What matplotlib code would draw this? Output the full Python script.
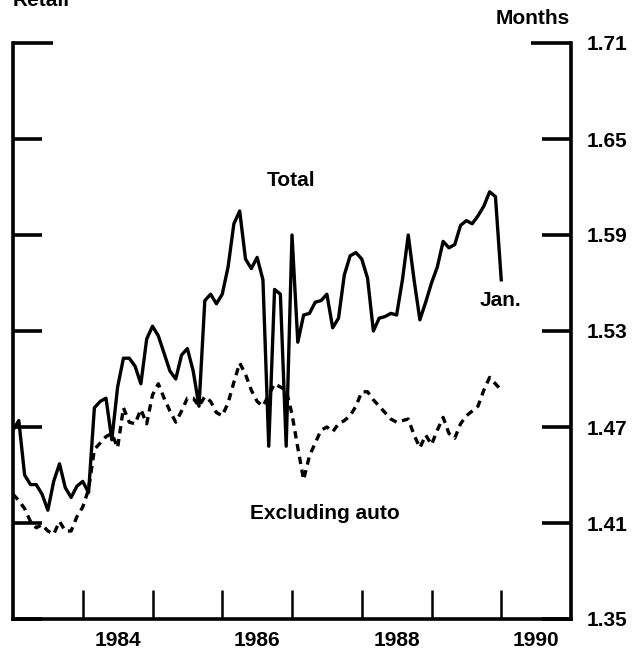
import numpy as np
import matplotlib
matplotlib.use("Agg")
import matplotlib.pyplot as plt
from matplotlib.ticker import FixedLocator, FixedFormatter, NullFormatter

plt.rcParams['font.family'] = ['Liberation Sans', 'DejaVu Sans']

# Monthly data, Jan 1983 .. Jan 1990
start_year = 1983
total = [
    1.468, 1.474, 1.440, 1.434, 1.434, 1.428, 1.418, 1.436, 1.447, 1.432, 1.426, 1.433,
    1.436, 1.429, 1.482, 1.486, 1.488, 1.462, 1.495, 1.513, 1.513, 1.508, 1.497, 1.525,
    1.533, 1.527, 1.516, 1.505, 1.500, 1.515, 1.519, 1.505, 1.483, 1.549, 1.553, 1.547,
    1.553, 1.570, 1.597, 1.605, 1.575, 1.569, 1.576, 1.562, 1.458, 1.556, 1.553, 1.458,
    1.590, 1.523, 1.540, 1.541, 1.548, 1.549, 1.553, 1.532, 1.538, 1.565, 1.577, 1.579,
    1.575, 1.563, 1.530, 1.538, 1.539, 1.541, 1.540, 1.562, 1.590, 1.562, 1.537, 1.548,
    1.560, 1.570, 1.586, 1.582, 1.584, 1.596, 1.599, 1.597, 1.602, 1.608, 1.617, 1.614,
    1.562,
]
excluding_auto = [
    1.428, 1.424, 1.419, 1.411, 1.407, 1.409, 1.405, 1.403, 1.411, 1.405, 1.405, 1.414,
    1.420, 1.431, 1.456, 1.460, 1.464, 1.466, 1.457, 1.482, 1.473, 1.472, 1.481, 1.472,
    1.490, 1.497, 1.488, 1.480, 1.473, 1.480, 1.488, 1.488, 1.483, 1.489, 1.486, 1.479,
    1.477, 1.485, 1.498, 1.510, 1.503, 1.493, 1.486, 1.483, 1.490, 1.497, 1.495, 1.493,
    1.478, 1.457, 1.437, 1.452, 1.460, 1.468, 1.470, 1.467, 1.472, 1.474, 1.477, 1.483,
    1.492, 1.492, 1.487, 1.483, 1.479, 1.475, 1.473, 1.474, 1.475, 1.465, 1.457, 1.465,
    1.459, 1.468, 1.476, 1.466, 1.463, 1.472, 1.477, 1.480, 1.483, 1.493, 1.501, 1.497,
    1.493,
]
y_ticks = [1.35, 1.41, 1.47, 1.53, 1.59, 1.65]
y_top_tick = [1.71]
y_labels = ["1.35", "1.41", "1.47", "1.53", "1.59", "1.65"]
y_top_label = ["1.71"]
year_ticks = [1984, 1985, 1986, 1987, 1988, 1989, 1990]
year_labels = ["1984", "1986", "1988", "1990"]

months = np.arange(len(total))
x = start_year + months / 12.0

W, H = 643, 659
fig = plt.figure(figsize=(W / 100, H / 100), dpi=100)
ax = fig.add_axes([13 / W, 1 - 619 / H, (571 - 13) / W, (619 - 43) / H])

ax.plot(x, total, color='black', lw=2.4, solid_joinstyle='round')
ax.plot(x, excluding_auto, color='black', lw=2.4, dashes=(2.2, 1.7),
        dash_capstyle='butt')

ax.set_xlim(1983, 1991)
ax.set_ylim(1.35, 1.71)

for s in ['left', 'right', 'bottom']:
    ax.spines[s].set_linewidth(2.6)
ax.spines['top'].set_visible(False)

# y ticks (both sides, inward), labels on the right
ax.yaxis.set_major_locator(FixedLocator(y_ticks))
ax.yaxis.set_major_formatter(FixedFormatter(y_labels))
ax.yaxis.set_minor_locator(FixedLocator(y_top_tick))
ax.yaxis.set_minor_formatter(FixedFormatter(y_top_label))
ax.tick_params(axis='y', which='major', direction='in', left=True, right=True,
               labelleft=False, labelright=True, length=21, width=2.6, pad=11,
               labelsize=15)
ax.tick_params(axis='y', which='minor', direction='in', left=True, right=True,
               labelleft=False, labelright=True, length=29, width=2.6, pad=11,
               labelsize=15)

# x ticks at year boundaries, labels centred in the year
ax.xaxis.set_major_locator(FixedLocator(year_ticks))
ax.xaxis.set_major_formatter(NullFormatter())
ax.xaxis.set_minor_locator(FixedLocator([int(y) + 0.5 for y in year_labels]))
ax.xaxis.set_minor_formatter(FixedFormatter(year_labels))
ax.tick_params(axis='x', which='major', direction='in', length=21, width=1.8)
ax.tick_params(axis='x', which='minor', length=0, pad=9, labelsize=15)

for lab in ax.get_xticklabels(minor=True) + ax.get_yticklabels() + ax.get_yticklabels(minor=True):
    lab.set_fontweight('bold')

ax.text(1986.99, 1.624, "Total", ha='center', va='center', fontsize=15, fontweight='bold')
ax.text(1989.99, 1.549, "Jan.", ha='center', va='center', fontsize=15, fontweight='bold')
ax.text(1987.47, 1.416, "Excluding auto", ha='center', va='center', fontsize=15, fontweight='bold')

fig.text(533 / W, 1 - 19 / H, "Months", ha='center', va='center', fontsize=15, fontweight='bold')
fig.text(13 / W, 1 - 6 / H, "Retail", ha='left', va='baseline', fontsize=15, fontweight='bold')

fig.savefig("out.png", dpi=100)
